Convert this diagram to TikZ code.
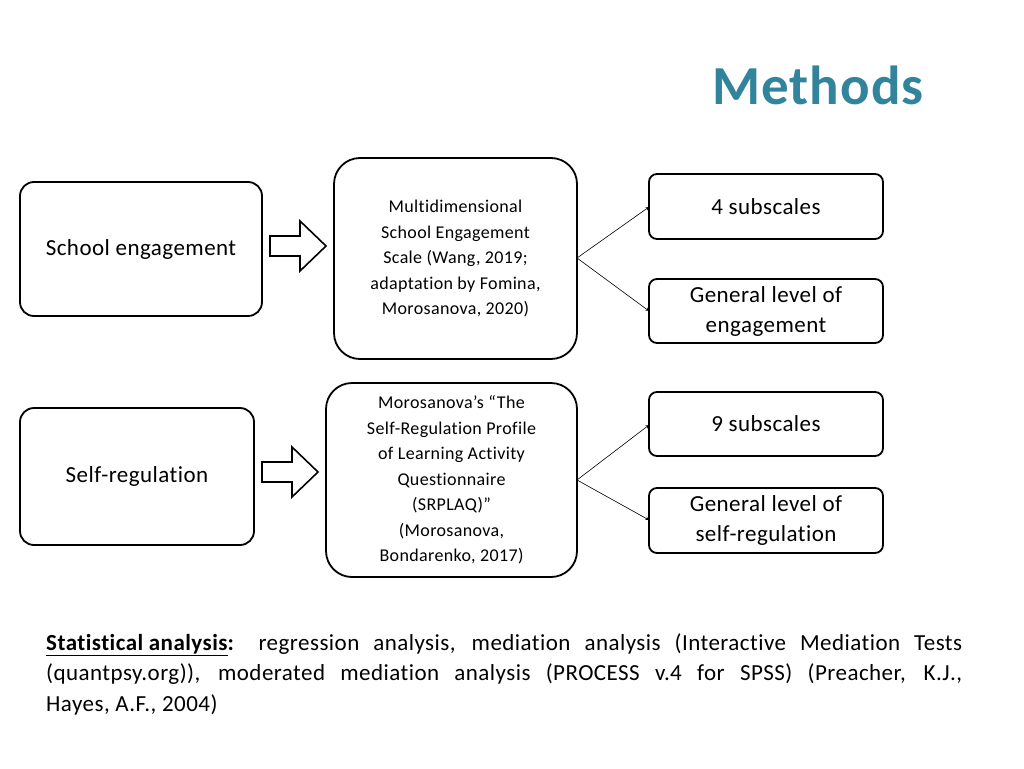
\documentclass[tikz,border=0pt]{standalone}
\usepackage{fontspec}
\setmainfont[Ligatures={NoCommon,TeX},LetterSpace=2]{Carlito}
\definecolor{teal1}{RGB}{49,132,155}
\begin{document}
\begin{tikzpicture}[x=1pt,y=-1pt,
 bx/.style={draw,line width=1.8pt,rounded corners=14pt,align=center,inner sep=0pt},
 big/.style={font=\fontsize{23}{30}\selectfont},
 small/.style={font=\fontsize{18}{25.5}\selectfont},
 ar/.style={-stealth,line width=0.6pt},
 blk/.style={draw,line width=1.6pt,fill=white}]
\useasboundingbox (0,0) rectangle (1024,768);
\node[font=\bfseries\fontsize{55}{60}\selectfont,text=teal1] (title) at (818,85) {Methods};
\node[bx,big,minimum width=242pt,minimum height=134pt] (se) at (141,249) {School engagement};
\node[bx,small,rounded corners=26pt,minimum width=243pt,minimum height=201pt] (ms) at (455.5,258.5) {Multidimensional\\School Engagement\\Scale (Wang, 2019;\\adaptation by Fomina,\\Morosanova, 2020)};
\node[bx,big,rounded corners=8pt,minimum width=234pt,minimum height=65pt] (s4) at (766,206.5) {4 subscales};
\node[bx,big,rounded corners=8pt,minimum width=234pt,minimum height=64pt] (ge) at (766,311) {General level of\\engagement};
\node[bx,big,minimum width=234pt,minimum height=137pt] (sr) at (137,476.5) {Self-regulation};
\node[bx,small,rounded corners=26pt,minimum width=251pt,minimum height=194pt] (mp) at (451.5,480) {Morosanova’s “The\\Self-Regulation Profile\\of Learning Activity\\Questionnaire\\(SRPLAQ)”\\(Morosanova,\\Bondarenko, 2017)};
\node[bx,big,rounded corners=8pt,minimum width=234pt,minimum height=64pt] (s9) at (766,424) {9 subscales};
\node[bx,big,rounded corners=8pt,minimum width=234pt,minimum height=65pt] (gs) at (766,520.5) {General level of\\self-regulation};
\draw[blk] (270,236)--(300,236)--(300,221)--(326,246)--(300,271)--(300,256)--(270,256)--cycle;
\draw[blk] (262,462)--(292,462)--(292,447)--(318,472)--(292,497)--(292,482)--(262,482)--cycle;
\coordinate (a1) at (577,258); \coordinate (a2) at (577,480);
\draw[ar] (a1)--(649,207); \draw[ar] (a1)--(649,311);
\draw[ar] (a2)--(649,425); \draw[ar] (a2)--(649,520);
\node[anchor=north west,text width=916pt,align=justify,inner sep=0pt,font=\fontsize{23}{30.5}\selectfont] (txt) at (46,633) {\textbf{\underline{Statistical analysis}:} regression analysis, mediation analysis (Interactive Mediation Tests\linebreak (quantpsy.org)), moderated mediation analysis (PROCESS v.4 for SPSS) (Preacher, K.J.,\linebreak Hayes, A.F., 2004)};
\end{tikzpicture}
\end{document}
